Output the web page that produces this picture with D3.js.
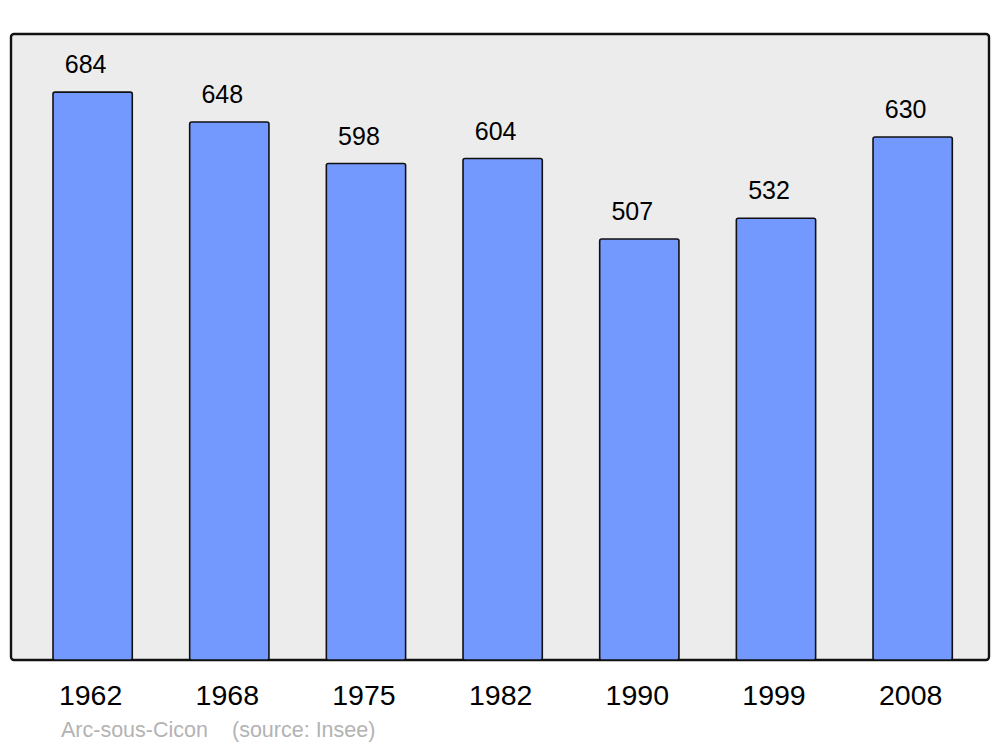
<!DOCTYPE html>
<html><head><meta charset="utf-8">
<script src="https://cdn.jsdelivr.net/npm/d3@7"></script>
<style>body{margin:0;background:#fff}svg{display:block}</style>
</head><body>
<script>
const years = ["1962","1968","1975","1982","1990","1999","2008"];
const population = [684,648,598,604,507,532,630];
const caption = "Arc-sous-Cicon";
const source = "(source: Insee)";

const W = 1000, H = 747;
const svg = d3.select("body").append("svg").attr("width",W).attr("height",H);
const font = "Liberation Sans, Arial, sans-serif";

svg.append("rect").attr("x",11).attr("y",34).attr("width",978).attr("height",626)
  .attr("rx",3).attr("fill","#ececec").attr("stroke","#111").attr("stroke-width",2.4);

const x = d3.scaleBand().domain(years).range([24.3,981]).paddingInner(0.42).paddingOuter(0.21);
const y = d3.scaleLinear().domain([0,754]).range([660,34]);

svg.selectAll("rect.bar").data(years).join("rect").attr("class","bar")
  .attr("x",d=>x(d)).attr("width",x.bandwidth())
  .attr("y",(d,i)=>y(population[i])).attr("height",(d,i)=>y(0)-y(population[i]))
  .attr("rx",2).attr("fill","#7399ff").attr("stroke","#111").attr("stroke-width",1.6);

svg.selectAll("text.val").data(years).join("text").attr("class","val")
  .attr("x",d=>x(d)+x.bandwidth()/2-7).attr("y",(d,i)=>y(population[i])-19)
  .attr("text-anchor","middle").attr("font-family",font).attr("font-size",25)
  .text((d,i)=>population[i]);

svg.selectAll("text.yr").data(years).join("text").attr("class","yr")
  .attr("x",d=>x(d)+x.bandwidth()/2-2).attr("y",705)
  .attr("text-anchor","middle").attr("font-family",font).attr("font-size",28.5)
  .text(d=>d);

svg.append("text").attr("x",61).attr("y",737).attr("font-family",font).attr("font-size",21.5)
  .attr("fill","#b3b3b3").text(caption);
svg.append("text").attr("x",232).attr("y",737).attr("font-family",font).attr("font-size",21.5)
  .attr("fill","#b3b3b3").text(source);
</script>
</body></html>
